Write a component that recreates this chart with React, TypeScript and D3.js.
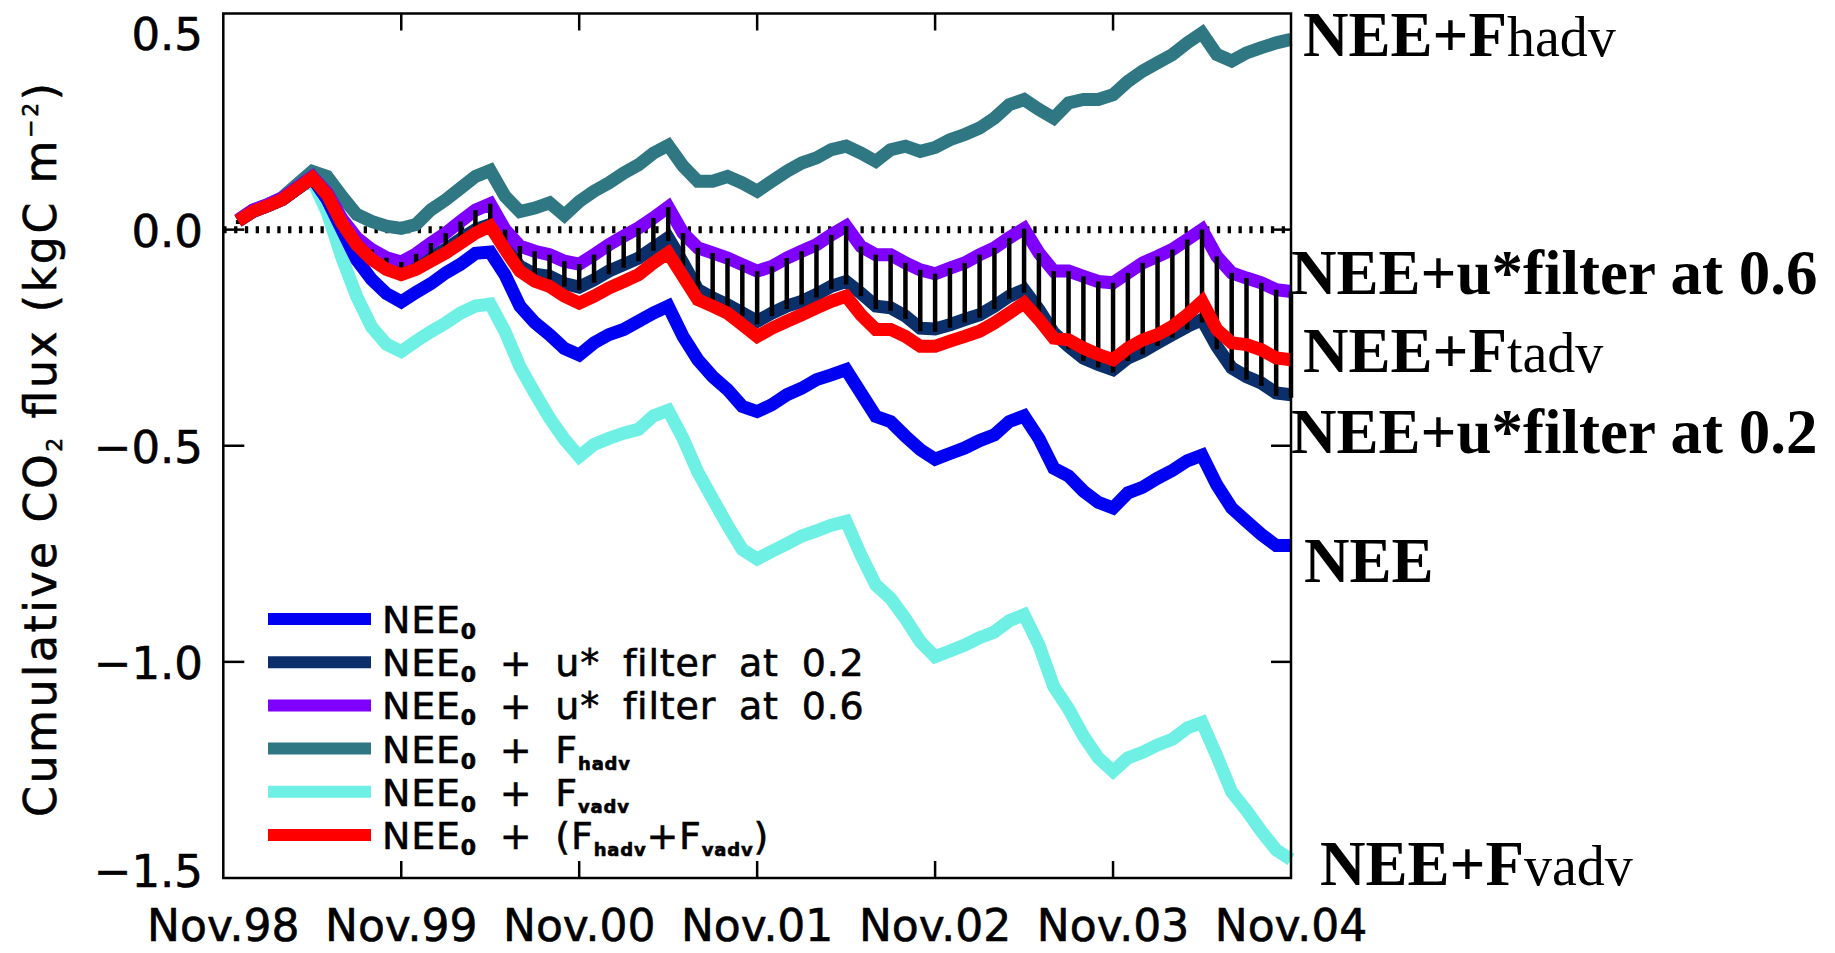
import React from 'react';
import * as d3 from 'd3';

// months since Nov 1998 (monthly values Dec 98 ... Nov 04)
const months = d3.range(1, 73);

const xTickMonths = [0, 12, 24, 36, 48, 60, 72];
const xTickLabels = ['Nov.98', 'Nov.99', 'Nov.00', 'Nov.01', 'Nov.02', 'Nov.03', 'Nov.04'];
const yTicks = [0.5, 0, -0.5, -1.0, -1.5];
const yTickLabels = ['0.5', '0.0', '\u22120.5', '\u22121.0', '\u22121.5'];

// NEE0
const nee0 = [
  0.02, 0.042, 0.055, 0.07, 0.095, 0.12,
  0.07, 0.0, -0.07, -0.115, -0.148, -0.167,
  -0.145, -0.125, -0.1, -0.08, -0.055, -0.052,
  -0.105, -0.177, -0.215, -0.243, -0.275, -0.29,
  -0.262, -0.243, -0.231, -0.212, -0.193, -0.177,
  -0.247, -0.301, -0.34, -0.37, -0.409, -0.421,
  -0.405, -0.382, -0.367, -0.347, -0.336, -0.324,
  -0.378, -0.432, -0.444, -0.478, -0.509, -0.531,
  -0.518, -0.505, -0.488, -0.475, -0.444, -0.431,
  -0.483, -0.552, -0.57, -0.605, -0.631, -0.644,
  -0.609, -0.596, -0.575, -0.557, -0.535, -0.522,
  -0.591, -0.644, -0.675, -0.705, -0.731, -0.731,
];

// NEE0 + u* filter at 0.2
const ustar02 = [
  0.02, 0.042, 0.055, 0.07, 0.095, 0.12,
  0.081, 0.015, -0.03, -0.062, -0.085, -0.095,
  -0.085, -0.065, -0.045, -0.022, 0.0, 0.012,
  -0.04, -0.085, -0.103, -0.108, -0.125, -0.133,
  -0.116, -0.096, -0.081, -0.066, -0.042, -0.019,
  -0.077, -0.139, -0.158, -0.174, -0.193, -0.212,
  -0.193, -0.177, -0.166, -0.15, -0.131, -0.12,
  -0.147, -0.177, -0.181, -0.2, -0.228, -0.23,
  -0.22, -0.208, -0.197, -0.177, -0.154, -0.139,
  -0.185, -0.239, -0.27, -0.297, -0.312, -0.324,
  -0.297, -0.282, -0.262, -0.243, -0.224, -0.208,
  -0.27, -0.32, -0.34, -0.355, -0.378, -0.382,
];

// NEE0 + u* filter at 0.6
const ustar06 = [
  0.022, 0.045, 0.058, 0.073, 0.098, 0.122,
  0.085, 0.025, -0.019, -0.046, -0.065, -0.075,
  -0.056, -0.031, -0.008, 0.019, 0.045, 0.06,
  0.0, -0.038, -0.05, -0.058, -0.073, -0.08,
  -0.058, -0.035, -0.015, 0.004, 0.027, 0.052,
  -0.008, -0.042, -0.054, -0.066, -0.081, -0.096,
  -0.085, -0.066, -0.05, -0.035, -0.012, 0.008,
  -0.039, -0.058, -0.058, -0.077, -0.093, -0.102,
  -0.089, -0.077, -0.058, -0.042, -0.019, 0.002,
  -0.054, -0.096, -0.096, -0.108, -0.12, -0.123,
  -0.1, -0.077, -0.062, -0.046, -0.023, 0.0,
  -0.062, -0.1, -0.112, -0.123, -0.139, -0.143,
];

// NEE0 + Fhadv
const fhadv = [
  0.022, 0.045, 0.058, 0.075, 0.105, 0.135,
  0.123, 0.077, 0.035, 0.019, 0.008, 0.003,
  0.012, 0.046, 0.069, 0.096, 0.123, 0.137,
  0.077, 0.042, 0.05, 0.062, 0.033, 0.065,
  0.089, 0.108, 0.131, 0.15, 0.177, 0.195,
  0.147, 0.112, 0.112, 0.123, 0.108, 0.089,
  0.112, 0.135, 0.154, 0.166, 0.185, 0.193,
  0.177, 0.158, 0.185, 0.193, 0.181, 0.19,
  0.208, 0.22, 0.235, 0.258, 0.289, 0.301,
  0.278, 0.258, 0.293, 0.301, 0.301, 0.312,
  0.343, 0.367, 0.386, 0.405, 0.432, 0.455,
  0.405, 0.39, 0.409, 0.421, 0.432, 0.44,
];

// NEE0 + Fvadv
const fvadv = [
  0.02, 0.042, 0.055, 0.07, 0.095, 0.115,
  0.04, -0.065, -0.155, -0.225, -0.265, -0.282,
  -0.258, -0.236, -0.216, -0.193, -0.177, -0.172,
  -0.236, -0.317, -0.378, -0.436, -0.485, -0.525,
  -0.497, -0.483, -0.471, -0.462, -0.431, -0.418,
  -0.483, -0.561, -0.623, -0.684, -0.74, -0.762,
  -0.744, -0.727, -0.709, -0.697, -0.684, -0.675,
  -0.753, -0.822, -0.853, -0.9, -0.953, -0.988,
  -0.975, -0.961, -0.944, -0.931, -0.905, -0.891,
  -0.961, -1.057, -1.109, -1.171, -1.222, -1.253,
  -1.222, -1.209, -1.192, -1.179, -1.153, -1.14,
  -1.218, -1.301, -1.344, -1.392, -1.435, -1.457,
];

// NEE0 + (Fhadv + Fvadv)
const ftadv = [
  0.02, 0.042, 0.055, 0.07, 0.095, 0.12,
  0.081, 0.015, -0.035, -0.069, -0.092, -0.104,
  -0.092, -0.073, -0.054, -0.031, -0.008, 0.008,
  -0.046, -0.096, -0.119, -0.131, -0.154, -0.17,
  -0.154, -0.135, -0.12, -0.104, -0.077, -0.054,
  -0.108, -0.162, -0.177, -0.193, -0.22, -0.247,
  -0.228, -0.212, -0.197, -0.181, -0.166, -0.154,
  -0.197, -0.231, -0.231, -0.247, -0.27, -0.27,
  -0.258, -0.247, -0.235, -0.216, -0.193, -0.17,
  -0.208, -0.251, -0.255, -0.274, -0.289, -0.301,
  -0.274, -0.255, -0.243, -0.224, -0.197, -0.166,
  -0.231, -0.262, -0.266, -0.278, -0.297, -0.301,
];

// legend text segments: [text, kind] where kind: 'n' normal, 's0' subscript zero, 's' subscript word
type Seg = [string, 'n' | 's0' | 's'];
const legendTexts: Seg[][] = [
  [['NEE', 'n'], ['0', 's0']],
  [['NEE', 'n'], ['0', 's0'], [' + u* filter at 0.2', 'n']],
  [['NEE', 'n'], ['0', 's0'], [' + u* filter at 0.6', 'n']],
  [['NEE', 'n'], ['0', 's0'], [' + F', 'n'], ['hadv', 's']],
  [['NEE', 'n'], ['0', 's0'], [' + F', 'n'], ['vadv', 's']],
  [['NEE', 'n'], ['0', 's0'], [' + (F', 'n'], ['hadv', 's'], ['+F', 'n'], ['vadv', 's'], [')', 'n']],
];

const C = {
  blue: '#0000f2',
  navy: '#0b2f6b',
  purple: '#7f00ff',
  teal: '#2f7883',
  cyan: '#6ef0e4',
  red: '#fe0000',
};

const W = 1835;
const H = 953;
const SANS = 'DejaVu Sans';
const SERIF = 'Liberation Serif';

export default function App() {
  const x = d3.scaleLinear().domain([0, 72]).range([223.3, 1291]);
  const y = d3.scaleLinear().domain([-1.5, 0.5]).range([878, 13.5]);
  const line = d3
    .line<number>()
    .x((_, i) => x(months[i]))
    .y((d) => y(d));

  const LW = 13;
  const drawOrder: [number[], string][] = [
    [fhadv, C.teal],
    [fvadv, C.cyan],
    [nee0, C.blue],
    [ustar02, C.navy],
    [ustar06, C.purple],
  ];
  const legendColors = [C.blue, C.navy, C.purple, C.teal, C.cyan, C.red];
  const legY0 = 619;
  const legDY = 43.2;

  const segOffset = (k: string) => (k === 's0' ? 6 : k === 's' ? 7 : 0);
  const renderSegs = (segs: Seg[]) => {
    let prev = 0;
    return segs.map(([t, k], j) => {
      const off = segOffset(k);
      const dy = off - prev;
      prev = off;
      const fs = k === 's0' ? 22 : k === 's' ? 18 : undefined;
      return (
        <tspan
          key={j}
          dy={dy}
          fontSize={fs}
          fontWeight={k === 'n' ? undefined : 'bold'}
          style={{ whiteSpace: 'pre' }}
        >
          {t}
        </tspan>
      );
    });
  };

  const yLabelBaseline = (v: number) => Math.min(887, Math.max(50, y(v) + 17));

  return (
    <svg
      width={W}
      height={H}
      viewBox={`0 0 ${W} ${H}`}
      style={{ position: 'absolute', left: 0, top: 0, display: 'block', background: '#fff' }}
    >
      <rect x={0} y={0} width={W} height={H} fill="#fff" />

      {/* zero dotted line */}
      <line
        x1={x(0)}
        x2={x(72)}
        y1={y(0)}
        y2={y(0)}
        stroke="#000"
        strokeWidth={7}
        strokeDasharray="3.3 7.5"
      />

      {drawOrder.map(([data, color], i) => (
        <path
          key={i}
          d={line(data) || ''}
          fill="none"
          stroke={color}
          strokeWidth={LW}
          strokeLinejoin="miter"
          strokeMiterlimit={4}
        />
      ))}

      {/* hatch between u* filter 0.2 and 0.6 */}
      {months.map((m, i) => (
        <line
          key={'h' + i}
          x1={x(m)}
          x2={x(m)}
          y1={y(ustar06[i])}
          y2={y(ustar02[i]) + 3}
          stroke="#000"
          strokeWidth={4.5}
        />
      ))}

      <path
        d={line(ftadv) || ''}
        fill="none"
        stroke={C.red}
        strokeWidth={LW}
        strokeLinejoin="miter"
        strokeMiterlimit={4}
      />

      {/* frame */}
      <rect
        x={x(0)}
        y={y(0.5)}
        width={x(72) - x(0)}
        height={y(-1.5) - y(0.5)}
        fill="none"
        stroke="#000"
        strokeWidth={2.5}
      />

      {/* x ticks */}
      {xTickMonths.slice(1, -1).map((m) => (
        <g key={'xt' + m}>
          <line x1={x(m)} x2={x(m)} y1={y(0.5)} y2={y(0.5) + 17} stroke="#000" strokeWidth={2.5} />
          <line x1={x(m)} x2={x(m)} y1={y(-1.5)} y2={y(-1.5) - 17} stroke="#000" strokeWidth={2.5} />
        </g>
      ))}
      {/* y ticks */}
      {yTicks.slice(1, -1).map((v) => (
        <g key={'yt' + v}>
          <line x1={x(0)} x2={x(0) + 21} y1={y(v)} y2={y(v)} stroke="#000" strokeWidth={2.5} />
          <line x1={x(72)} x2={x(72) - 20} y1={y(v)} y2={y(v)} stroke="#000" strokeWidth={2.5} />
        </g>
      ))}

      <g fontFamily={SANS} fill="#000" stroke="#000" strokeWidth={0.6}>
        {/* x labels */}
        {xTickMonths.map((m, i) => (
          <text key={'xl' + m} x={x(m)} y={941} textAnchor="middle" fontSize={44}>
            {xTickLabels[i]}
          </text>
        ))}

        {/* y labels */}
        {yTicks.map((v, i) => (
          <text key={'yl' + i} x={203} y={yLabelBaseline(v)} textAnchor="end" fontSize={45}>
            {yTickLabels[i]}
          </text>
        ))}

        {/* y title */}
        <text
          transform="translate(56,450) rotate(-90)"
          textAnchor="middle"
          fontSize={44}
          textLength={734}
          lengthAdjust="spacing"
        >
          <tspan>Cumulative CO</tspan>
          <tspan fontSize={22} dy={6}>2</tspan>
          <tspan dy={-6} style={{ whiteSpace: 'pre' }}> flux (kgC m</tspan>
          <tspan fontSize={22} dy={-18}>{'\u22122'}</tspan>
          <tspan dy={18}>)</tspan>
        </text>
      </g>

      {/* legend */}
      {legendColors.map((color, i) => (
        <g key={'lg' + i}>
          <line
            x1={268}
            x2={371}
            y1={legY0 + i * legDY}
            y2={legY0 + i * legDY}
            stroke={color}
            strokeWidth={12}
          />
          <text
            x={382}
            y={legY0 + i * legDY + 14}
            fontFamily={SANS}
            fontSize={38}
            letterSpacing={0.8}
            wordSpacing={10}
            fill="#000"
            stroke="#000"
            strokeWidth={0.6}
          >
            {renderSegs(legendTexts[i])}
          </text>
        </g>
      ))}

      {/* right annotations */}
      <g fontFamily={SERIF} fontSize={63} fill="#000">
        <text x={1303} y={56}>
          <tspan fontWeight="bold">NEE+F</tspan>
          <tspan fontSize={56}>hadv</tspan>
        </text>
        <text x={1291} y={294} fontWeight="bold">NEE+u*filter at 0.6</text>
        <text x={1303} y={372}>
          <tspan fontWeight="bold">NEE+F</tspan>
          <tspan fontSize={56}>tadv</tspan>
        </text>
        <text x={1291} y={453} fontWeight="bold">NEE+u*filter at 0.2</text>
        <text x={1304} y={582} fontWeight="bold">NEE</text>
        <text x={1320} y={885}>
          <tspan fontWeight="bold">NEE+F</tspan>
          <tspan fontSize={56}>vadv</tspan>
        </text>
      </g>
    </svg>
  );
}
